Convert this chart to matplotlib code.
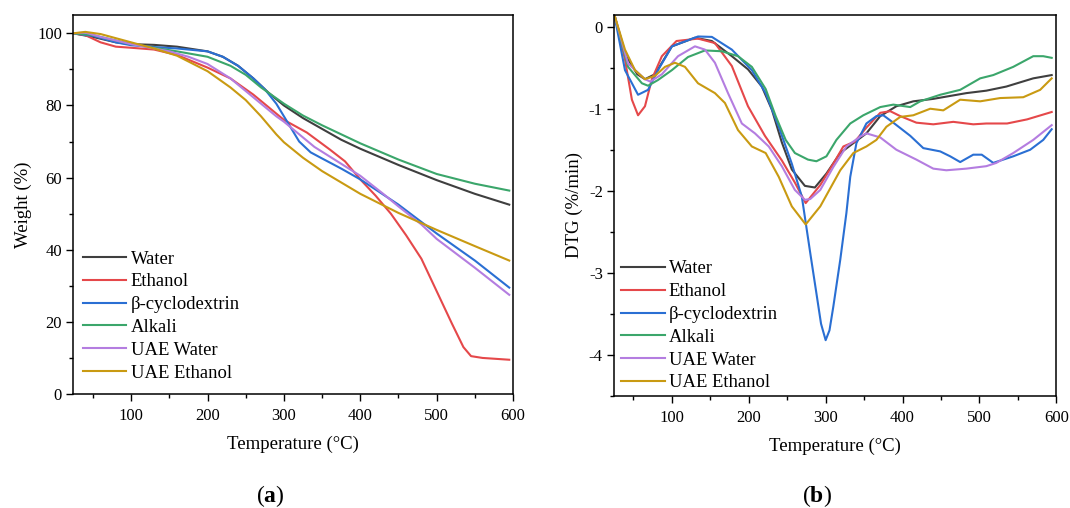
#!/usr/bin/env python
"""
TGA and DTG curves of the extracted samples, side by side.
"""

import matplotlib
matplotlib.use('Agg')
import matplotlib.pyplot as plt
from matplotlib.ticker import MultipleLocator

SERIES = ["Water", "Ethanol", "β-cyclodextrin", "Alkali", "UAE Water",
          "UAE Ethanol"]
COLORS = ["#3f3f3f", "#e5484a", "#2a6fd3", "#3ba66b", "#b47de0", "#c99a12"]

# (a) weight (%) against temperature (°C)
tga_water_t = [24, 50, 80, 100, 130, 160, 200, 220, 240, 260, 280, 300, 325,
               350, 375, 400, 450, 500, 550, 595]
tga_water = [100, 99, 97.5, 97, 96.8, 96.3, 95, 93.5, 91, 87.5, 83.5, 80,
             76.5, 73.5, 70.5, 68, 63.5, 59.3, 55.5, 52.5]

tga_ethanol_t = [24, 40, 60, 80, 100, 130, 160, 200, 230, 260, 280, 300, 330,
                 360, 380, 400, 420, 440, 460, 480, 500, 520, 535, 545, 560,
                 595]
tga_ethanol = [100, 99.5, 97.5, 96.3, 96, 95.5, 94, 90.5, 87.5, 83, 79.5, 76,
               72.5, 67.8, 64.5, 59.5, 55, 50, 44, 37.5, 28.5, 19.5, 13, 10.5,
               10, 9.5]

tga_bcd_t = [24, 50, 80, 100, 130, 160, 200, 220, 240, 260, 275, 290, 300, 310,
             320, 335, 350, 375, 400, 450, 500, 550, 595]
tga_bcd = [100, 99.3, 97.5, 96.7, 96.2, 95.8, 95, 93.5, 91, 87.5, 84.5, 80.5,
           77, 73.5, 70, 67, 65.3, 62.5, 59.5, 52.5, 44.5, 37, 29.5]

tga_alkali_t = [24, 50, 80, 100, 130, 160, 200, 230, 250, 270, 290, 300, 325,
                350, 400, 450, 500, 550, 595]
tga_alkali = [100, 99.5, 98, 97, 96, 95, 93.5, 91, 88.5, 85, 82, 80.5, 77.2,
              74.5, 69.5, 65, 61, 58.3, 56.4]

tga_uae_water_t = [24, 40, 60, 100, 150, 175, 200, 230, 250, 270, 290, 300,
                   320, 340, 370, 400, 430, 450, 480, 500, 550, 595]
tga_uae_water = [100, 100.2, 99, 97, 95, 93.5, 91.5, 87.5, 84, 80.5, 77, 75.5,
                 72, 68.5, 64.5, 60.5, 55.5, 52, 47, 43, 35, 27.5]

tga_uae_ethanol_t = [24, 40, 60, 100, 130, 160, 200, 230, 250, 270, 290, 300,
                     325, 350, 400, 450, 500, 550, 595]
tga_uae_ethanol = [100, 100.4, 99.8, 97.5, 95.8, 93.8, 89.5, 85, 81.5, 77, 72,
                   69.8, 65.5, 61.8, 55.5, 50.2, 45.5, 41, 37]

# (b) DTG (%/min) against temperature (°C)
dtg_water_t = [25, 40, 55, 65, 78, 100, 130, 152, 178, 199, 217, 230, 243, 256,
               273, 286, 301, 319, 336, 353, 371, 392, 414, 440, 483, 509, 535,
               570, 594]
dtg_water = [0.15, -0.35, -0.58, -0.64, -0.58, -0.24, -0.135, -0.175, -0.36,
             -0.52, -0.73, -1.01, -1.41, -1.74, -1.94, -1.96, -1.79, -1.54,
             -1.42, -1.30, -1.09, -0.97, -0.91, -0.88, -0.81, -0.78, -0.73,
             -0.63, -0.59]

dtg_ethanol_t = [25, 39, 48, 56, 65, 74, 87, 106, 134, 156, 178, 199, 221, 243,
                 260, 274, 293, 310, 323, 338, 353, 371, 384, 397, 418, 440,
                 466, 492, 509, 536, 562, 594]
dtg_ethanol = [0.15, -0.40, -0.89, -1.08, -0.97, -0.64, -0.36, -0.175, -0.146,
               -0.2, -0.48, -0.97, -1.33, -1.63, -1.9, -2.15, -1.93, -1.67,
               -1.46, -1.40, -1.23, -1.05, -1.03, -1.09, -1.17, -1.19, -1.16,
               -1.19, -1.18, -1.18, -1.13, -1.04]

dtg_bcd_t = [25, 39, 56, 69, 82, 100, 134, 152, 178, 204, 222, 239, 256, 269,
             280, 288, 294, 300, 305, 310, 319, 327, 332, 340, 353, 366, 375,
             388, 410, 427, 449, 462, 475, 492, 503, 518, 544, 566, 583, 594]
dtg_bcd = [0.15, -0.53, -0.83, -0.77, -0.53, -0.24, -0.12, -0.125, -0.28,
           -0.53, -0.81, -1.22, -1.67, -2.07, -2.76, -3.25, -3.62, -3.82, -3.7,
           -3.41, -2.84, -2.27, -1.83, -1.42, -1.18, -1.09, -1.08, -1.17, -1.33,
           -1.48, -1.52, -1.58, -1.65, -1.56, -1.56, -1.66, -1.58, -1.50, -1.38,
           -1.25]

dtg_alkali_t = [25, 43, 61, 69, 82, 100, 121, 143, 165, 186, 204, 222, 235,
                248, 260, 277, 288, 301, 314, 332, 349, 371, 388, 410, 423, 449,
                475, 501, 518, 544, 570, 583, 594]
dtg_alkali = [0.15, -0.49, -0.69, -0.72, -0.65, -0.53, -0.37, -0.29, -0.30,
              -0.36, -0.49, -0.76, -1.09, -1.38, -1.54, -1.62, -1.64, -1.58,
              -1.38, -1.18, -1.08, -0.98, -0.95, -0.98, -0.91, -0.83, -0.77,
              -0.63, -0.59, -0.49, -0.36, -0.36, -0.38]

dtg_uae_water_t = [25, 43, 65, 72, 87, 108, 130, 143, 156, 173, 191, 208, 226,
                   243, 260, 273, 280, 293, 310, 327, 345, 353, 371, 392, 418,
                   440, 457, 483, 509, 522, 544, 570, 594]
dtg_uae_water = [0.15, -0.45, -0.64, -0.67, -0.58, -0.36, -0.24, -0.28, -0.44,
                 -0.81, -1.18, -1.30, -1.46, -1.70, -1.99, -2.11, -2.10, -1.99,
                 -1.71, -1.46, -1.34, -1.30, -1.35, -1.50, -1.62, -1.73, -1.75,
                 -1.73, -1.70, -1.66, -1.54, -1.38, -1.20]

dtg_uae_ethanol_t = [25, 39, 52, 65, 78, 91, 104, 117, 134, 156, 169, 186, 204,
                     222, 239, 256, 274, 293, 319, 336, 353, 366, 379, 397, 414,
                     436, 453, 475, 501, 527, 557, 579, 594]
dtg_uae_ethanol = [0.15, -0.28, -0.53, -0.64, -0.60, -0.49, -0.44, -0.49, -0.69,
                   -0.81, -0.93, -1.26, -1.46, -1.54, -1.83, -2.19, -2.41,
                   -2.19, -1.75, -1.54, -1.46, -1.38, -1.22, -1.10, -1.08,
                   -1.00, -1.02, -0.89, -0.91, -0.87, -0.86, -0.77, -0.63]

TGA = [(tga_water_t, tga_water), (tga_ethanol_t, tga_ethanol),
       (tga_bcd_t, tga_bcd), (tga_alkali_t, tga_alkali),
       (tga_uae_water_t, tga_uae_water), (tga_uae_ethanol_t, tga_uae_ethanol)]
DTG = [(dtg_water_t, dtg_water), (dtg_ethanol_t, dtg_ethanol),
       (dtg_bcd_t, dtg_bcd), (dtg_alkali_t, dtg_alkali),
       (dtg_uae_water_t, dtg_uae_water), (dtg_uae_ethanol_t, dtg_uae_ethanol)]


def style_axes(ax, ymajor, yminor):
    """
    Boxed axes with outward ticks on the bottom and left only.
    """

    ax.xaxis.set_major_locator(MultipleLocator(100))
    ax.xaxis.set_minor_locator(MultipleLocator(50))
    ax.yaxis.set_major_locator(MultipleLocator(ymajor))
    ax.yaxis.set_minor_locator(MultipleLocator(yminor))
    ax.tick_params(which='both', direction='out', top=False, right=False,
                   width=1, labelsize=12)
    ax.tick_params(which='major', length=4.7)
    ax.tick_params(which='minor', length=2.6)
    ax.tick_params(axis='x', which='major', pad=5.5)
    ax.tick_params(axis='y', which='major', pad=3.2)
    for spine in ax.spines.values():
        spine.set_linewidth(1.1)
    ax.set_xlabel("Temperature (°C)", fontsize=13.5, labelpad=8)


def draw(ax, data, anchor):
    for (t, v), name, color in zip(data, SERIES, COLORS):
        ax.plot(t, v, color=color, lw=1.5, label=name)
    ax.legend(loc='lower left', bbox_to_anchor=anchor, frameon=False,
              fontsize=13.4, handlelength=2.35, handletextpad=0.22,
              labelspacing=0.31, borderpad=0, borderaxespad=0)


if __name__ == "__main__":

    plt.rcParams['font.family'] = ['Liberation Serif', 'DejaVu Serif']
    plt.rcParams['mathtext.fontset'] = 'custom'
    plt.rcParams['mathtext.rm'] = 'Liberation Serif'
    plt.rcParams['mathtext.bf'] = 'Liberation Serif:bold'
    plt.rcParams['axes.unicode_minus'] = False

    fig = plt.figure(figsize=(10.7, 5.08), dpi=100)

    ax1 = fig.add_axes([0.0683, 0.2244, 0.4112, 0.7455])
    draw(ax1, TGA, (0.022, 0.033))
    ax1.set_xlim(24, 600)
    ax1.set_ylim(0, 105)
    style_axes(ax1, 20, 10)
    ax1.set_ylabel("Weight (%)", fontsize=13.5, labelpad=4)

    ax2 = fig.add_axes([0.5736, 0.2205, 0.4136, 0.75])
    draw(ax2, DTG, (0.0165, 0.012))
    ax2.set_xlim(24.4, 600)
    ax2.set_ylim(-4.5, 0.142)
    style_axes(ax2, 1, 0.5)
    ax2.set_ylabel("DTG (%/min)", fontsize=13.5, labelpad=4)

    fig.text(0.253, 0.024, r"($\mathbf{a}$)", fontsize=17, ha='center',
             va='center')
    fig.text(0.7636, 0.024, r"($\mathbf{b}$)", fontsize=17, ha='center',
             va='center')

    fig.savefig("out.png", dpi=100)
